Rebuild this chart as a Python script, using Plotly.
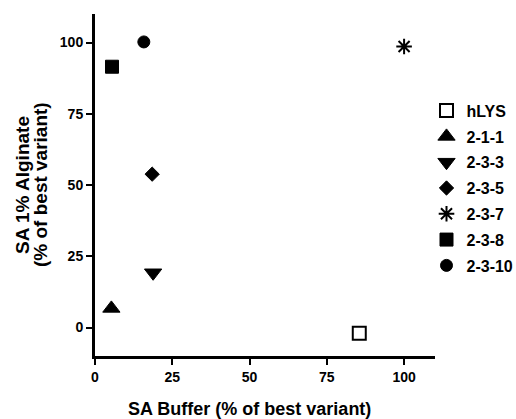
import plotly.graph_objects as go

names = ["hLYS", "2-1-1", "2-3-3", "2-3-5", "2-3-7", "2-3-8", "2-3-10"]
sa_buffer = [85.5, 5.3, 18.8, 18.5, 100.0, 5.5, 15.8]
sa_alginate = [-2.0, 6.7, 19.2, 53.8, 98.6, 91.5, 100.2]
symbols = ["square-open", "triangle-up", "triangle-down", "diamond", "asterisk-open", "square", "circle"]
sizes = [13, 15, 15, 11, 13, 13, 12]
line_widths = [2, 1, 1, 1, 2, 1, 1]
x_ticks = [0, 25, 50, 75, 100]
y_ticks = [0, 25, 50, 75, 100]
x_title = "SA Buffer (% of best variant)"
y_title_lines = ["SA 1% Alginate", "(% of best variant)"]

FONT = "Liberation Sans"

fig = go.Figure()
for n, xv, yv, s, sz, lw in zip(names, sa_buffer, sa_alginate, symbols, sizes, line_widths):
    fig.add_trace(go.Scatter(
        x=[xv], y=[yv], mode="markers", name=n, legendgroup=n,
        marker=dict(symbol=s, size=sz, color="black",
                    line=dict(color="black", width=lw)),
    ))

axis_common = dict(
    showline=True, linewidth=3, linecolor="black", mirror=False,
    ticks="outside", ticklen=6, tickwidth=2, tickcolor="black",
    showgrid=False, zeroline=False, automargin=False,
    tickfont=dict(family=FONT, size=14, color="black", weight=700),
)

annotations = [
    dict(text=x_title, xref="x", yref="paper", x=50, y=0,
         xanchor="center", yanchor="middle", yshift=-53, showarrow=False,
         font=dict(family=FONT, size=18, color="black", weight=700)),
]
for i, line in enumerate(y_title_lines):
    annotations.append(dict(
        text=line, xref="paper", yref="paper", x=0, y=0.5,
        xanchor="center", yanchor="middle", xshift=-73 + 18 * i,
        textangle=-90, showarrow=False,
        font=dict(family=FONT, size=19, color="black", weight=700)))

fig.update_layout(
    width=516, height=419,
    margin=dict(l=95, r=81, t=14, b=63, autoexpand=False),
    paper_bgcolor="white", plot_bgcolor="white",
    font=dict(family=FONT, color="black"),
    xaxis=dict(range=[0, 110], tickvals=x_ticks, **axis_common),
    yaxis=dict(range=[-10, 110], tickvals=y_ticks, **axis_common),
    annotations=annotations,
    legend=dict(x=0.975, y=0.767, xanchor="left", yanchor="top",
                font=dict(family=FONT, size=16, color="black", weight=700),
                tracegroupgap=2, bgcolor="rgba(0,0,0,0)"),
    showlegend=True,
)

fig.write_html("out.html",
               config={"displayModeBar": False},
               post_script="document.body.style.margin='0';document.body.style.overflow='hidden';")
